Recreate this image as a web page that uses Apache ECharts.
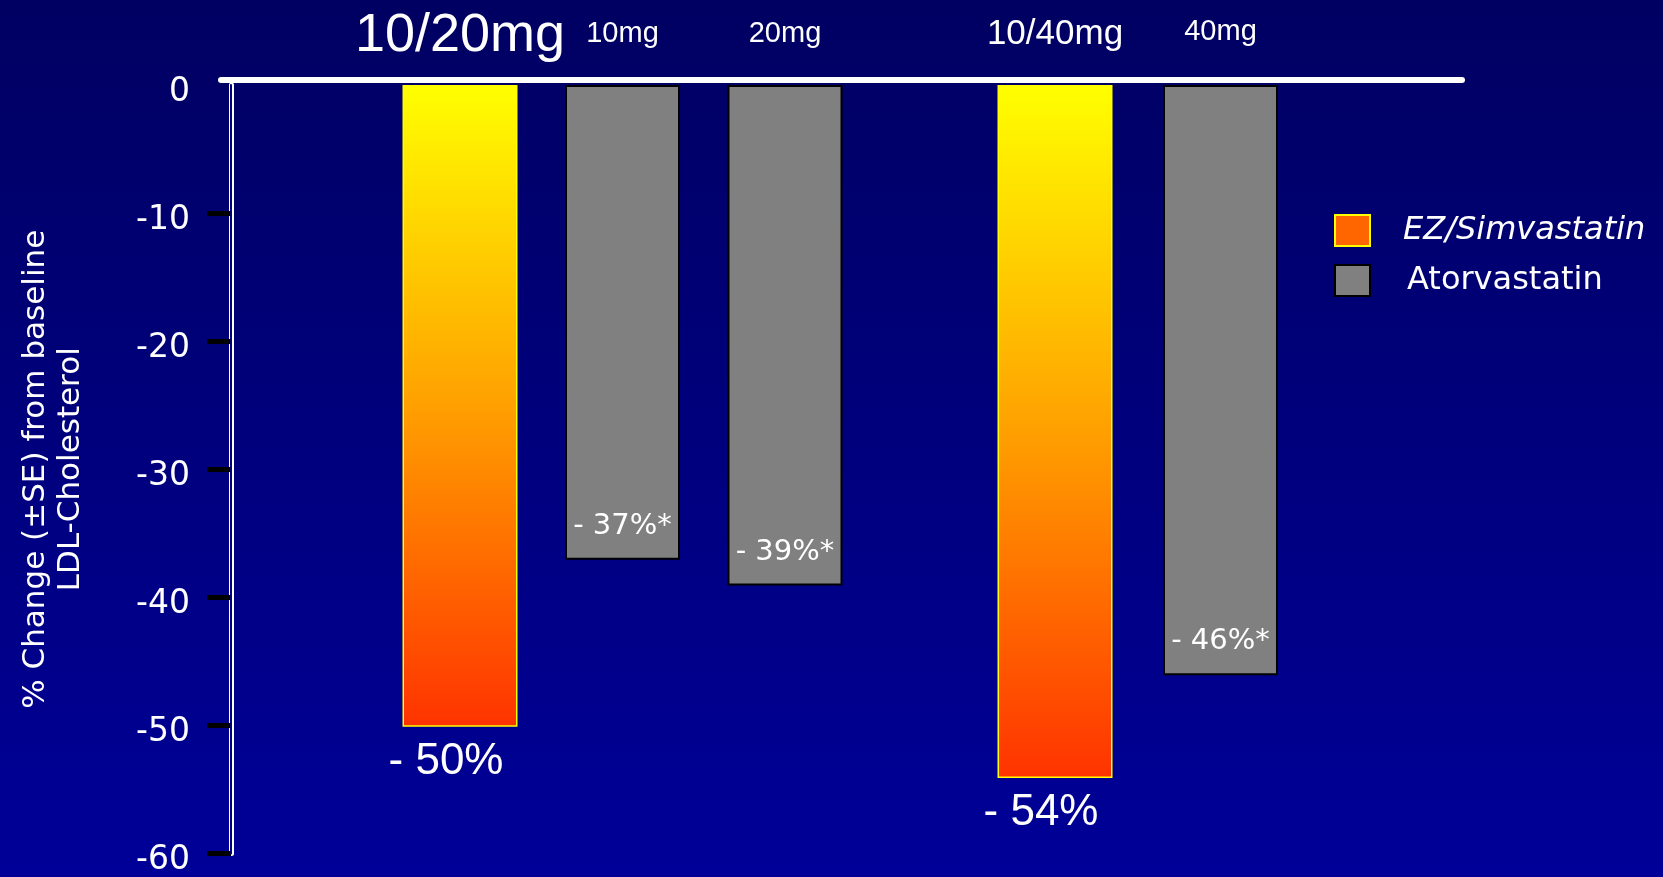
<!DOCTYPE html>
<html>
<head>
<meta charset="utf-8">
<script src="https://cdn.jsdelivr.net/npm/echarts@6/dist/echarts.min.js"></script>
<style>
  html, body { margin: 0; padding: 0; background: #000064; }
  #chart { width: 1663px; height: 877px; }
</style>
</head>
<body>
<div id="chart"></div>
<script>
// LDL-C change from baseline, grouped by dose
const lowDoseCategories = ['10/20mg', '10mg', '20mg'];
const highDoseCategories = ['10/40mg', '40mg'];
const ezSimvastatinLow = [-50, null, null];
const atorvastatinLow = [null, -37, -39];
const ezSimvastatinHigh = [-54, null];
const atorvastatinHigh = [null, -46];
const yTickValues = [0, -10, -20, -30, -40, -50, -60];
const seriesNames = ['EZ/Simvastatin', 'Atorvastatin'];
const yAxisTitle = '% Change (\u00B1SE) from baseline\nLDL-Cholesterol';

const yMin = Math.min(...yTickValues);
const yMax = Math.max(...yTickValues);
const toSeries = arr => arr.map(v => (v === null ? '-' : v));

const chart = echarts.init(document.getElementById('chart'), null, { renderer: 'canvas' });

const ezColor = new echarts.graphic.LinearGradient(0, 0, 0, 1, [
  { offset: 0, color: '#FFFF00' },
  { offset: 0.5, color: '#FFA000' },
  { offset: 1, color: '#FF3300' }
]);

const ezStyle = { color: ezColor, borderColor: '#FFFF00', borderWidth: 1.5 };
const atorStyle = { color: '#808080', borderColor: '#000000', borderWidth: 2 };

const ezLabel = {
  show: true,
  position: 'bottom',
  distance: 13,
  offset: [-14, 0],
  color: '#FFFFFF',
  fontFamily: 'Liberation Sans',
  fontSize: 44,
  formatter: p => '- ' + Math.abs(p.value) + '%'
};
const atorLabel = {
  show: true,
  position: 'insideBottom',
  distance: 19,
  color: '#FFFFFF',
  fontFamily: 'DejaVu Sans',
  fontSize: 29,
  formatter: p => '- ' + Math.abs(p.value) + '%*'
};

const hiddenY = gi => ({
  gridIndex: gi, type: 'value', min: yMin, max: yMax, show: false
});

const catAxis = (gi, cats, rich, pick) => ({
  gridIndex: gi,
  type: 'category',
  data: cats,
  position: 'top',
  axisLine: { show: false },
  axisTick: { show: false },
  axisLabel: {
    margin: 22,
    color: '#FFFFFF',
    fontFamily: 'Liberation Sans',
    interval: 0,
    formatter: (v, i) => '{' + pick(i) + '|' + v + '}',
    rich: rich
  }
});

const option = {
  backgroundColor: new echarts.graphic.LinearGradient(0, 0, 0, 1, [
    { offset: 0, color: '#000062' },
    { offset: 1, color: '#000098' }
  ]),
  animation: false,
  grid: [
    { left: 221, top: 85, width: 1241, height: 770 },
    { left: 378.75, top: 85, width: 487.5, height: 770 },
    { left: 972.25, top: 85, width: 331, height: 770 }
  ],
  legend: {
    orient: 'vertical',
    left: 1329,
    top: 209,
    itemWidth: 35,
    itemHeight: 31,
    itemGap: 17,
    icon: 'rect',
    data: [
      {
        name: seriesNames[0],
        itemStyle: { color: '#FF6600', borderColor: '#FFFF00', borderWidth: 2 },
        textStyle: { color: '#FFFFFF', fontFamily: 'DejaVu Sans', fontStyle: 'italic', fontSize: 32, lineHeight: 31, padding: [0, 0, 0, 28] }
      },
      {
        name: seriesNames[1],
        itemStyle: { color: '#808080', borderColor: '#000000', borderWidth: 2 },
        textStyle: { color: '#FFFFFF', fontFamily: 'DejaVu Sans', fontSize: 32, lineHeight: 31, padding: [0, 0, 0, 32] }
      }
    ]
  },
  xAxis: [
    {
      gridIndex: 0, type: 'value', min: 0, max: 1, position: 'top', offset: 5,
      axisLine: { show: true, onZero: false, lineStyle: { color: '#FFFFFF', width: 6 } },
      axisTick: { show: false }, axisLabel: { show: false }, splitLine: { show: false }
    },
    catAxis(1, lowDoseCategories, {
      big: { fontSize: 54, fontFamily: 'Liberation Sans', color: '#FFFFFF' },
      small: { fontSize: 29, fontFamily: 'Liberation Sans', color: '#FFFFFF', padding: [0, 0, 15, 0] }
    }, i => (i === 0 ? 'big' : 'small')),
    catAxis(2, highDoseCategories, {
      mid: { fontSize: 35, fontFamily: 'Liberation Sans', color: '#FFFFFF', padding: [0, 0, 11, 0] },
      small: { fontSize: 29, fontFamily: 'Liberation Sans', color: '#FFFFFF', padding: [0, 0, 17, 0] }
    }, i => (i === 0 ? 'mid' : 'small'))
  ],
  yAxis: [
    {
      gridIndex: 0, type: 'value', position: 'left', min: yMin, max: yMax, interval: 10, offset: -10,
      axisLine: { show: true, onZero: false, lineStyle: { color: '#FFFFFF', width: 5 } },
      axisTick: {
        show: true, length: 24, inside: false,
        lineStyle: { color: '#000000', width: 5 },
        customValues: yTickValues.filter(v => v !== 0)
      },
      axisLabel: {
        margin: 41, color: '#FFFFFF', fontFamily: 'DejaVu Sans', fontSize: 33,
        verticalAlign: 'top', lineHeight: 14
      },
      splitLine: { show: false },
      name: yAxisTitle,
      nameLocation: 'middle',
      nameGap: 143,
      nameTextStyle: { color: '#FFFFFF', fontFamily: 'DejaVu Sans', fontSize: 31, lineHeight: 35 }
    },
    {
      gridIndex: 0, type: 'value', position: 'left', min: yMin, max: yMax, interval: 10, offset: -10, z: 5,
      axisLine: { show: true, onZero: false, lineStyle: { color: '#00007A', width: 2 } },
      axisTick: { show: false }, axisLabel: { show: false }, splitLine: { show: false }
    },
    hiddenY(1),
    hiddenY(2)
  ],
  series: [
    {
      name: seriesNames[0], type: 'bar', xAxisIndex: 1, yAxisIndex: 2, stack: 'low',
      barWidth: 115, data: toSeries(ezSimvastatinLow), itemStyle: ezStyle, label: ezLabel
    },
    {
      name: seriesNames[1], type: 'bar', xAxisIndex: 1, yAxisIndex: 2, stack: 'low',
      barWidth: 113, data: toSeries(atorvastatinLow), itemStyle: atorStyle, label: atorLabel
    },
    {
      name: seriesNames[0], type: 'bar', xAxisIndex: 2, yAxisIndex: 3, stack: 'high',
      barWidth: 115, data: toSeries(ezSimvastatinHigh), itemStyle: ezStyle, label: ezLabel
    },
    {
      name: seriesNames[1], type: 'bar', xAxisIndex: 2, yAxisIndex: 3, stack: 'high',
      barWidth: 113, data: toSeries(atorvastatinHigh), itemStyle: atorStyle, label: atorLabel
    }
  ]
};

chart.setOption(option);
</script>
</body>
</html>
